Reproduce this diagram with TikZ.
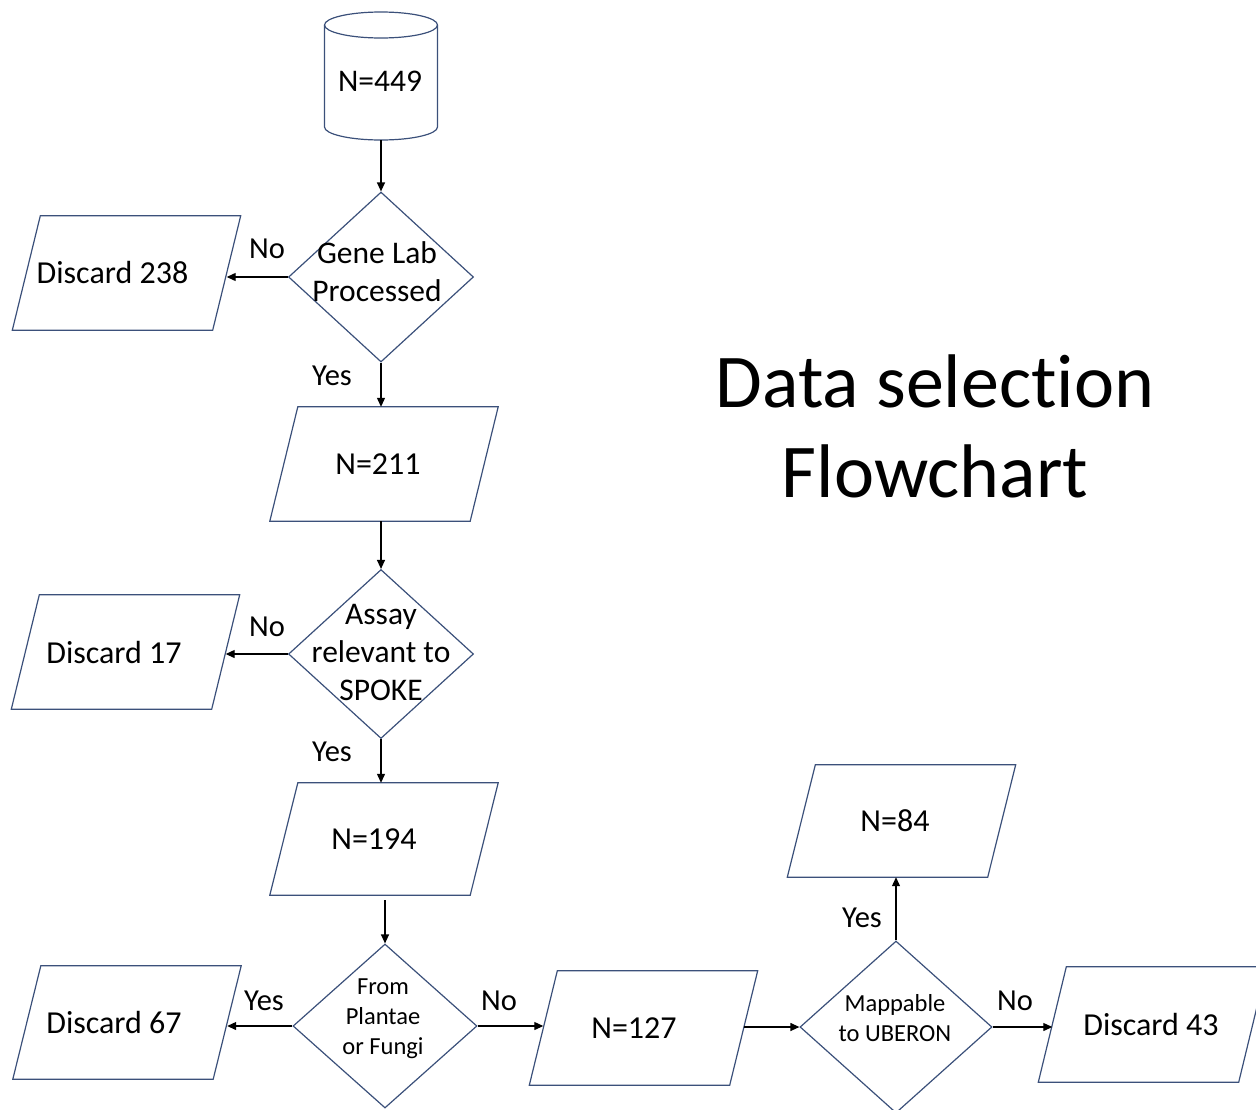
\documentclass[tikz,border=0pt]{standalone}
\usepackage{fontspec}
\setmainfont{Carlito}[Ligatures=NoCommon]
\usetikzlibrary{shapes.geometric,arrows.meta}
\definecolor{edgeblue}{RGB}{59,80,122}
\tikzset{
  x=1pt, y=-1pt,
  outline/.style={draw=edgeblue, line width=1.2pt},
  iobox/.style={rectangle, minimum width=200pt, minimum height=114pt, inner sep=0pt,
    font=\fontsize{32}{38}\selectfont},
  decision/.style={diamond, outline, inner sep=0pt},
  flow/.style={-{Triangle[length=9pt,width=8pt]}, line width=1.2pt, black},
  bigtext/.style={font=\fontsize{31.5}{38}\selectfont, align=center},
  smalltext/.style={font=\fontsize{24.5}{30}\selectfont, align=center},
  answer/.style={font=\fontsize{30.5}{36}\selectfont, inner sep=0pt},
}
% shifts a box label to the left by half of the given padding
\newcommand{\padright}[2]{#1\hspace*{#2}}
% slanted data frame around a named box node
\newcommand{\slantframe}[1]{%
  \draw[outline] ([xshift=-14pt]#1.south west) -- ([xshift=-14pt]#1.south east)
    -- ([xshift=14pt]#1.north east) -- ([xshift=14pt]#1.north west) -- cycle;}
\begin{document}
\begin{tikzpicture}
\useasboundingbox (0,0) rectangle (1256,1109);

% source database (cylinder)
\node[minimum width=113pt, minimum height=128pt, inner sep=0pt] (db) at (381,76) {};
\draw[outline] (324.5,25) -- (324.5,127) arc[start angle=180, end angle=0, x radius=56.5, y radius=13] -- (437.5,25);
\draw[outline] (381,25) ellipse[x radius=56.5, y radius=13];
\node[bigtext] (dbtext) at (380,81) {N=449};

% decisions
\node[decision, minimum width=185pt, minimum height=170pt] (q1) at (381,277) {};
\node[bigtext] (q1t) at (377,272) {Gene Lab\\Processed};
\node[decision, minimum width=185pt, minimum height=169pt] (q2) at (381,654) {};
\node[bigtext] (q2t) at (381,652) {Assay\\relevant to\\SPOKE};
\node[decision, minimum width=184pt, minimum height=164pt] (q3) at (385,1026) {};
\node[smalltext] (q3t) at (383,1019) {From\\Plantae\\or Fungi};
\node[decision, minimum width=192pt, minimum height=172pt] (q4) at (896,1027) {};
\node[smalltext] (q4t) at (895,1018) {Mappable\\to UBERON};

% data boxes
\node[iobox] (d238) at (126.5,273) {\padright{Discard 238}{28pt}};
\node[iobox] (n211) at (384,464) {\padright{N=211}{12pt}};
\node[iobox] (d17) at (125.5,652) {\padright{Discard 17}{23pt}};
\node[iobox, minimum height=112pt] (n194) at (384,839) {\padright{N=194}{20pt}};
\node[iobox, minimum height=113pt] (d67) at (127,1022.5) {\padright{Discard 67}{26pt}};
\node[iobox] (n127) at (643.5,1028) {\padright{N=127}{19pt}};
\node[iobox, minimum height=112pt] (n84) at (901.5,821) {\padright{N=84}{13pt}};
\node[iobox, minimum height=115pt] (d43) at (1152.5,1024.5) {\padright{Discard 43}{3pt}};
\slantframe{d238}
\slantframe{n211}
\slantframe{d17}
\slantframe{n194}
\slantframe{d67}
\slantframe{n127}
\slantframe{n84}
\slantframe{d43}

% title
\node[font=\fontsize{76}{90}\selectfont, align=center] (title) at (935,426) {Data selection\\Flowchart};

% connectors
\draw[flow] (db.south) -- (q1.north);
\draw[flow] (q1.west) -- (q1.west -| d238.east);
\draw[flow] (q1.south) -- (q1.south |- n211.north);
\draw[flow] (n211.south -| q2.north) -- (q2.north);
\draw[flow] (q2.west) -- (q2.west -| d17.east);
\draw[flow] (q2.south) -- (q2.south |- n194.north);
\draw[flow] ([yshift=-5pt]n194.south -| q3.north) -- (q3.north);
\draw[flow] (q3.west) -- (q3.west -| d67.east);
\draw[flow] (q3.east) -- (q3.east -| n127.west);
\draw[flow] (q4.west -| n127.east) -- (q4.west);
\draw[flow] (q4.east) -- (q4.east -| d43.west);
\draw[flow] (q4.north) -- (q4.north |- n84.south);

% branch labels
\node[answer] (no1) at (267,249) {No};
\node[answer] (yes1) at (332,376) {Yes};
\node[answer] (no2) at (267,627) {No};
\node[answer] (yes2) at (332,752) {Yes};
\node[answer] (yes3) at (264,1001) {Yes};
\node[answer] (no3) at (499,1001) {No};
\node[answer] (no4) at (1015,1001) {No};
\node[answer] (yes4) at (862,918) {Yes};
\end{tikzpicture}
\end{document}
